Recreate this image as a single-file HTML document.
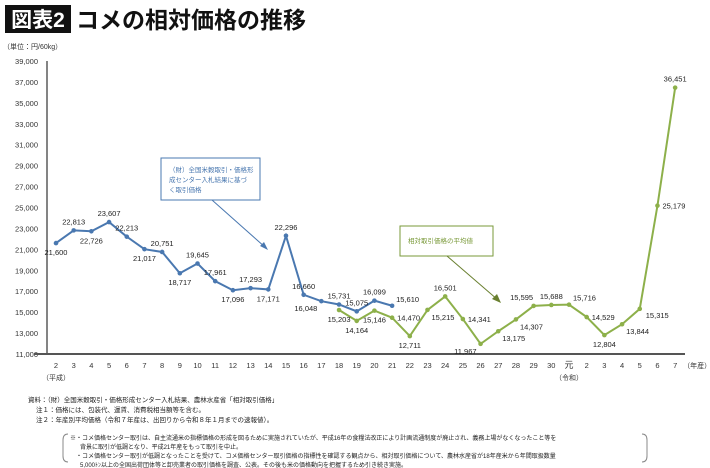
<!DOCTYPE html>
<html><head><meta charset="utf-8">
<style>
body{margin:0;background:#fff;font-family:"Liberation Sans","Noto Sans CJK JP",sans-serif;}
#wrap{position:relative;width:710px;height:468px;overflow:hidden;}
svg text{font-family:"Liberation Sans","Noto Sans CJK JP",sans-serif;}
</style></head><body>
<div id="wrap">
<svg id="chart" width="710" height="468">
  <rect x="5" y="5" width="66" height="28" fill="#111"/>
  <text x="38" y="27" font-size="21" font-weight="bold" fill="#fff" text-anchor="middle">図表2</text>
  <text x="76" y="28" font-size="23" font-weight="bold" fill="#111">コメの相対価格の推移</text>
  <text x="3" y="49" font-size="7" fill="#333">（単位：円/60kg）</text>
  <g id="yaxis"></g>
  <g id="xaxis"></g>
  <g id="series"></g>
  <g>
    <rect x="161" y="158" width="99" height="42" fill="#fff" stroke="#4a78b0" stroke-width="1"/>
    <text x="169" y="172" font-size="6.5" fill="#4a78b0">（財）全国米穀取引・価格形</text>
    <text x="169" y="182" font-size="6.5" fill="#4a78b0">成センター入札結果に基づ</text>
    <text x="169" y="192" font-size="6.5" fill="#4a78b0">く取引価格</text>
    <line x1="212" y1="200" x2="266" y2="248" stroke="#4a78b0" stroke-width="1"/>
    <polygon points="268,250 260,246 264,242" fill="#4a78b0"/>
  </g>
  <g>
    <rect x="400" y="226" width="93" height="30" fill="#fff" stroke="#7a9a3a" stroke-width="1"/>
    <text x="408" y="243" font-size="6.5" fill="#7a9a3a">相対取引価格の平均値</text>
    <line x1="447" y1="256" x2="498" y2="300" stroke="#6a8030" stroke-width="1"/>
    <polygon points="501,303 492,299 497,294" fill="#6a8030"/>
  </g>
  <g font-size="6.5" fill="#222">
    <text x="28" y="402">資料：（財）全国米穀取引・価格形成センター入札結果、農林水産省「相対取引価格」</text>
    <text x="36" y="412">注１：価格には、包装代、運賃、消費税相当額等を含む。</text>
    <text x="36" y="422">注２：年産別平均価格（令和７年産は、出回りから令和８年１月までの速報値）。</text>
    <path d="M68,434 q-5,0 -5,6 v16 q0,6 5,6" fill="none" stroke="#888"/>
    <path d="M642,434 q5,0 5,6 v16 q0,6 -5,6" fill="none" stroke="#888"/>
    <text x="70" y="440" font-size="6">※・コメ価格センター取引は、自主流通米の指標価格の形成を図るために実施されていたが、平成16年の食糧法改正により計画流通制度が廃止され、義務上場がなくなったこと等を</text>
    <text x="80" y="449" font-size="6">背景に取引が低調となり、平成21年産をもって取引を中止。</text>
    <text x="76" y="458" font-size="6">・コメ価格センター取引が低調となったことを受けて、コメ価格センター取引価格の指標性を確認する観点から、相対取引価格について、農林水産省が18年産米から年間取扱数量</text>
    <text x="80" y="467" font-size="6">5,000ﾄﾝ以上の全国出荷団体等と卸売業者の取引価格を調査、公表。その後も米の価格動向を把握するため引き続き実施。</text>
  </g>
</svg>
</div>
<script>
const categories=["2","3","4","5","6","7","8","9","10","11","12","13","14","15","16","17","18","19","20","21","22","23","24","25","26","27","28","29","30","元","2","3","4","5","6","7"];
const blueValues=[21600,22813,22726,23607,22213,21017,20751,18717,19645,17961,17096,17293,17171,22296,16660,16048,15731,15075,16099,15610];
const blueStart=0;
const greenValues=[15203,14164,15146,14470,12711,15215,16501,14341,11967,13175,14307,15595,15688,15716,14529,12804,13844,15315,25179,36451];
const greenStart=16;
const yTicks=[11000,13000,15000,17000,19000,21000,23000,25000,27000,29000,31000,33000,35000,37000,39000];
const blueLabelPos=["b","a","b","a","a","b","a","b","a","a","b","a","b","a","a","bl","a","a","a","ar"];
const greenLabelPos=["b","b","b","r","b","br","a","r","bl","br","br","al","a","ar","r","b","br","rb","r","a"];

const NS="http://www.w3.org/2000/svg";
const x0=56,dx=17.69,yMin=11000,yMax=39000,yBot=354,yTop=61;
function X(i){return x0+i*dx;}
function Y(v){return yBot-(v-yMin)/(yMax-yMin)*(yBot-yTop);}
function mk(tag,attrs,parent){const e=document.createElementNS(NS,tag);for(const k in attrs)e.setAttribute(k,attrs[k]);parent.appendChild(e);return e;}
const fmt=v=>v.toLocaleString("en-US");

const ya=document.getElementById("yaxis");
const yl=mk("line",{x1:47,y1:yTop,x2:47,y2:yBot,stroke:"#333","stroke-width":1.2},ya);


yTicks.forEach(t=>{
  const tx=mk("text",{x:38,y:Y(t)+3,"font-size":7.5,fill:"#333","text-anchor":"end"},ya);
  tx.textContent=fmt(t);
  
  
});
const xa=document.getElementById("xaxis");
const xl=mk("line",{x1:34,y1:yBot,x2:685,y2:yBot,stroke:"#555","stroke-width":2},xa);


categories.forEach((c,i)=>{
  const tx=mk("text",{x:X(i),y:368,"font-size":c==="元"?9:7.5,fill:"#333","text-anchor":"middle"},xa);
  tx.textContent=c;
  
  
});
[["（平成）",X(0)],["（令和）",X(29)],["（年産）",X(35)+22]].forEach(([s,x],k)=>{
  const tx=mk("text",{x:x,y:k==2?368:380,"font-size":7,fill:"#333","text-anchor":"middle"},xa);
  tx.textContent=s;
  
  
});

const sg=document.getElementById("series");
function offs(p){
  switch(p){case "a":return[0,-6,"middle"];case "b":return[0,12,"middle"];case "r":return[5,3,"start"];
  case "ar":return[4,-4,"start"];case "br":return[4,10,"start"];case "bl":return[-4,10,"end"];case "rb":return[6,9,"start"];
  case "al":return[-12,-6,"middle"];}
  return[0,-6,"middle"];
}
function drawSeries(vals,start,color,pos,name){
  const g=mk("g",{},sg);
  
  
  const pts=vals.map((v,i)=>X(start+i)+","+Y(v)).join(" ");
  const pl=mk("polyline",{points:pts,fill:"none",stroke:color,"stroke-width":2},g);
  
  
  vals.forEach((v,i)=>{
    const c=mk("circle",{cx:X(start+i),cy:Y(v),r:2.3,fill:color},g);
    
    
    const o=offs(pos[i]);
    const t=mk("text",{x:X(start+i)+o[0],y:Y(v)+o[1],"font-size":7.5,fill:"#222","text-anchor":o[2]},g);
    t.textContent=fmt(v);
    
    
  });
}
drawSeries(blueValues,blueStart,"#4a78b0",blueLabelPos,"center-price-series");
drawSeries(greenValues,greenStart,"#8db04a",greenLabelPos,"relative-price-series");
</script>
</body></html>
